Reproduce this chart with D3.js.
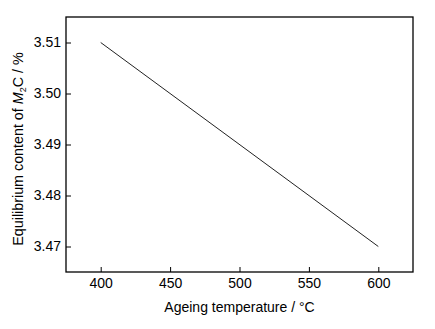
<!DOCTYPE html>
<html><head><meta charset="utf-8">
<script src="https://cdn.jsdelivr.net/npm/d3@7"></script>
<style>body{margin:0;background:#fff;} svg{display:block;font-family:"Liberation Sans",Arial,sans-serif;}</style>
</head><body><div id="chart"></div>
<script>
const temps = [400, 600];
const content = [3.51, 3.47];
const xTicks = [400, 450, 500, 550, 600];
const yTicks = [3.47, 3.48, 3.49, 3.50, 3.51];
const xTitle = "Ageing temperature / °C";

const W = 435, H = 329;
const m = {left: 66, right: 22, top: 17, bottom: 57};
const svg = d3.select("#chart").append("svg").attr("width", W).attr("height", H);
const x = d3.scaleLinear().domain([375, 625]).range([m.left, W - m.right]);
const y = d3.scaleLinear().domain([3.465, 3.515]).range([H - m.bottom, m.top]);

const fs = 14;
const gx = svg.append("g").attr("transform", `translate(0,${H - m.bottom})`)
  .call(d3.axisBottom(x).tickValues(xTicks).tickSize(-5).tickPadding(6).tickFormat(d3.format("d")));
const gy = svg.append("g").attr("transform", `translate(${m.left},0)`)
  .call(d3.axisLeft(y).tickValues(yTicks).tickSize(-5).tickPadding(5).tickFormat(d3.format(".2f")));
[gx, gy].forEach(g => {
  g.select(".domain").remove();
  g.selectAll(".tick line").attr("stroke", "#000").attr("stroke-width", 1);
  g.selectAll(".tick text").attr("fill", "#000").attr("font-size", fs).attr("font-family", "Liberation Sans, Arial, sans-serif");
});
gx.selectAll(".tick text").attr("dy", "0.71em");

svg.append("rect").attr("x", m.left).attr("y", m.top)
  .attr("width", W - m.right - m.left).attr("height", H - m.bottom - m.top)
  .attr("fill", "none").attr("stroke", "#000").attr("stroke-width", 1.3);

const pts = temps.map((t, i) => [t, content[i]]);
svg.append("path").datum(pts)
  .attr("d", d3.line().x(d => x(d[0])).y(d => y(d[1])))
  .attr("fill", "none").attr("stroke", "#222").attr("stroke-width", 1);

svg.append("text").attr("x", (m.left + W - m.right) / 2).attr("y", 312)
  .attr("text-anchor", "middle").attr("font-size", fs).attr("fill", "#000").text(xTitle);

const yt = svg.append("text").attr("transform", `translate(23,149) rotate(-90)`)
  .attr("text-anchor", "middle").attr("font-size", 14.3).attr("fill", "#000");
yt.append("tspan").text("Equilibrium content of ");
yt.append("tspan").attr("font-style", "italic").text("M");
yt.append("tspan").attr("font-size", 9).attr("dy", 3).text("2");
yt.append("tspan").attr("dy", -3).text("C / %");
</script></body></html>
